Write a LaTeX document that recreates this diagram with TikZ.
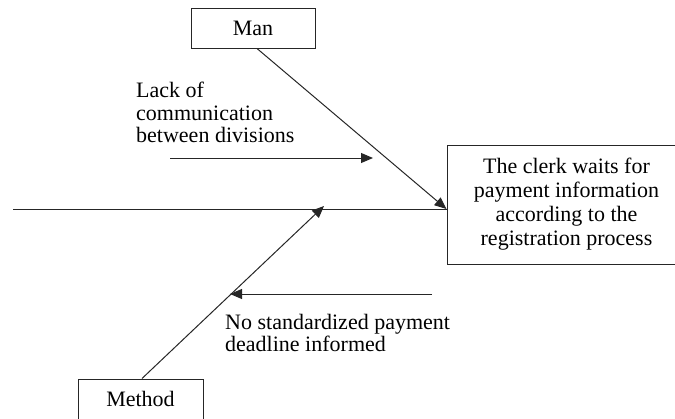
\documentclass[tikz,border=0pt]{standalone}
\usepackage{fontspec}
\setmainfont{Liberation Serif}
\newfontfamily\diagfont{Liberation Serif}
\usetikzlibrary{arrows.meta}
\begin{document}
\begin{tikzpicture}[x=1pt,y=-1pt,
  line/.style={draw=black!85, line width=1pt},
  arr/.style={line, -{Triangle[length=12pt,width=10pt]}},
  box/.style={draw=black!85, line width=1pt, inner sep=0pt,
    font=\diagfont\fontsize{22}{24}\selectfont},
  lbl/.style={inner sep=0pt, align=left,
    font=\diagfont\fontsize{22}{22.5}\selectfont}]
\clip (0,0) rectangle (675,418);

% category boxes and the effect box
\node[box, minimum width=124pt, minimum height=40pt] (man) at (253,28) {Man};
\node[box, minimum width=125pt, minimum height=40pt] (method) at (140.5,399) {Method};
\node[box, minimum width=239pt, minimum height=119pt, align=center] (effect) at (566.5,204.5)
  {The clerk waits for\\payment information\\according to the\\registration process};

% spine and bones
\coordinate (tail) at (13,209);
\coordinate (head) at (effect.west |- tail);
\coordinate (mantop) at ([xshift=4pt]man.south);
\coordinate (methodtop) at ([xshift=1.5pt]method.north);
\coordinate (methodtip) at (324,206);
\draw[line] (tail) -- (head);
\draw[arr] (mantop) -- (head);
\draw[arr] (methodtop) -- (methodtip);

% causes
\coordinate (c1a) at (170,158);
\coordinate (c1b) at (373,158);
\coordinate (c2a) at (432,294);
\coordinate (c2b) at (230,294);
\draw[arr] (c1a) -- (c1b);
\draw[arr] (c2a) -- (c2b);

\node[lbl, anchor=north west] (cause1) at (136,82)
  {Lack of\\communication\\between divisions};
\node[lbl, anchor=north west] (cause2) at (225,314)
  {No standardized payment\\deadline informed};
\end{tikzpicture}
\end{document}
